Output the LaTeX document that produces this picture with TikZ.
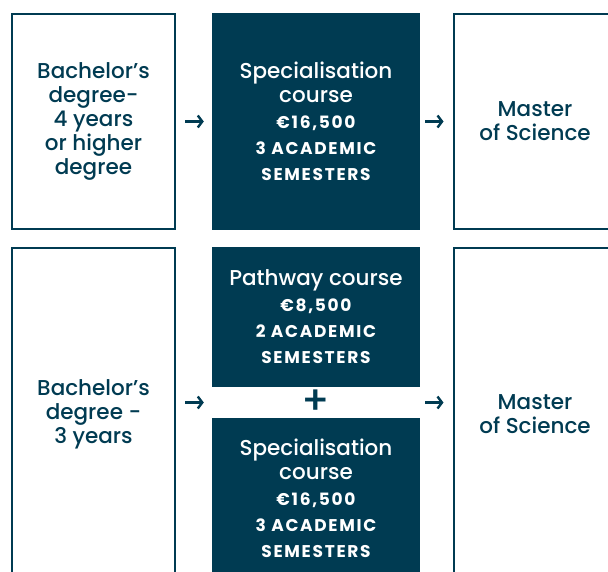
\documentclass[tikz,border=0pt]{standalone}
\usepackage{fontspec}
\setmainfont{Poppins}[UprightFont={Poppins Medium}, BoldFont={Poppins Bold}]
\newfontfamily\capsfont{Poppins}[UprightFont={Poppins Bold}, BoldFont={Poppins Bold}, LetterSpace=10]
\usetikzlibrary{arrows.meta,calc}
\definecolor{navy}{HTML}{003B52}
\tikzset{
  outline/.style={draw=navy, line width=2pt, fill=white, inner sep=0pt, text=navy, align=center,
    font=\fontsize{21.5}{24}\selectfont},
  darkbox/.style={fill=navy, inner sep=0pt, text=white, align=center,
    font=\fontsize{21.5}{26}\selectfont},
  arr/.style={draw=navy, line width=2.6pt, -{Straight Barb[length=4.5pt,width=12pt,line width=2.4pt]}},
}
\newcommand{\cp}[1]{{\capsfont\fontsize{17}{26}\selectfont #1}}
\begin{document}
\begin{tikzpicture}[x=1pt,y=-1pt]
\clip (0,0) rectangle (608,571);
\useasboundingbox (0,0) rectangle (608,571);
% top row
\node[outline, minimum width=163pt, minimum height=215pt] (L1) at (93.5,121.5)
  {Bachelor’s\\degree-\\4 years\\or higher\\degree};
\node[darkbox, minimum width=208pt, minimum height=217pt] (D1) at (316,121.5)
  {Specialisation\\[-2pt]course\\\cp{€16,500}\\\cp{3 ACADEMIC}\\\cp{SEMESTERS}};
\node[outline, minimum width=163pt, minimum height=215pt] (R1) at (535,121.5)
  {Master\\of Science};
% bottom row
\node[outline, minimum width=163pt, minimum height=332pt] (L2) at (93.5,414)
  {Bachelor’s\\degree -\\3 years};
\node[darkbox, minimum width=208pt, minimum height=140pt] (D2a) at (316,317)
  {Pathway course\\\cp{€8,500}\\\cp{2 ACADEMIC}\\\cp{SEMESTERS}};
\node[darkbox, minimum width=208pt, minimum height=161pt] (D2b) at (316,498.5)
  {Specialisation\\[-2pt]course\\\cp{€16,500}\\\cp{3 ACADEMIC}\\\cp{SEMESTERS}};
\node[outline, minimum width=163pt, minimum height=332pt] (R2) at (535,414)
  {Master\\of Science};
\node[text=navy, font=\fontsize{40}{40}\selectfont, inner sep=0pt] (P) at (316,402.5) {+};
% arrows
\draw[arr, shorten <=9pt, shorten >=8pt] (L1.east) -- (D1.west);
\draw[arr, shorten <=5pt, shorten >=9pt] (D1.east) -- (R1.west);
\coordinate (a1) at (L2.east |- P);
\coordinate (a2) at (D2a.west |- P);
\coordinate (a3) at (D2a.east |- P);
\coordinate (a4) at (R2.west |- P);
\draw[arr, shorten <=9pt, shorten >=8pt] (a1) -- (a2);
\draw[arr, shorten <=5pt, shorten >=9pt] (a3) -- (a4);
\end{tikzpicture}
\end{document}
